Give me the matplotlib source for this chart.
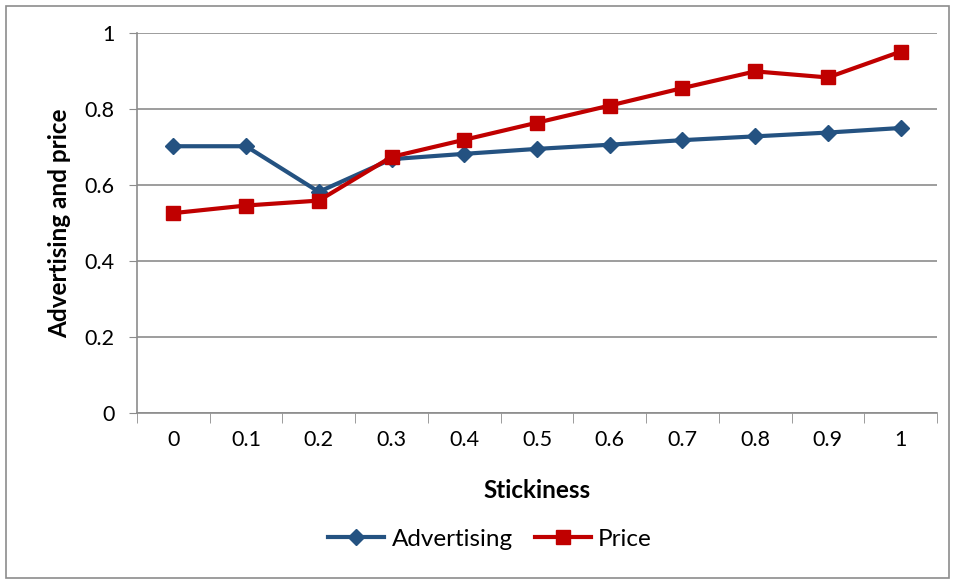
import matplotlib
matplotlib.use("Agg")
import matplotlib.pyplot as plt
from matplotlib.patches import Rectangle

# Stickiness levels and the two outcome series
stickiness = ["0", "0.1", "0.2", "0.3", "0.4", "0.5", "0.6", "0.7", "0.8", "0.9", "1"]
advertising = [0.702, 0.702, 0.582, 0.668, 0.682, 0.695, 0.706, 0.718, 0.728, 0.738, 0.750]
price = [0.526, 0.546, 0.559, 0.674, 0.719, 0.764, 0.809, 0.855, 0.899, 0.883, 0.951]
yticks = [0, 0.2, 0.4, 0.6, 0.8, 1]

plt.rcParams['font.family'] = ['Lato', 'DejaVu Sans']

fig = plt.figure(figsize=(9.56, 5.8), dpi=100)
# outer chart frame
fig.patches.append(Rectangle((6 / 956, 2 / 580), 943 / 956, 572 / 580,
                             transform=fig.transFigure, fill=False,
                             edgecolor='#8c8c8c', linewidth=1.2))

ax = fig.add_axes([137 / 956, 1 - 413 / 580, 800 / 956, 380 / 580])
x = list(range(len(stickiness)))

ax.plot(x, advertising, color='#245281', linewidth=3, marker='D',
        markersize=8, label='Advertising')
ax.plot(x, price, color='#C00000', linewidth=3, marker='s',
        markersize=10, label='Price')

ax.set_xlim(-0.5, len(stickiness) - 0.5)
ax.set_ylim(0, 1)
ax.set_yticks(yticks)
ax.set_yticklabels([f"{v:g}" for v in yticks], fontsize=15.5)
ax.set_xticks(x)
ax.set_xticklabels(stickiness, fontsize=15.5)
ax.tick_params(axis='x', length=0, pad=12)
# category boundary tick marks
ax.set_xticks([i - 0.5 for i in range(len(stickiness) + 1)], minor=True)
ax.tick_params(axis='x', which='minor', length=7, color='#8c8c8c', direction='out')
ax.tick_params(axis='y', length=6, color='#8c8c8c', direction='out', pad=10)

ax.grid(axis='y', color='#8c8c8c', linewidth=1.2)
ax.set_axisbelow(True)
for side in ['top', 'right']:
    ax.spines[side].set_visible(False)
for side in ['left', 'bottom']:
    ax.spines[side].set_color('#8c8c8c')
    ax.spines[side].set_linewidth(1.2)

ax.set_xlabel('Stickiness', fontsize=17.5, fontweight='bold', labelpad=21)
ax.set_ylabel('Advertising and price', fontsize=17.5, fontweight='bold', labelpad=10)

fig.legend(loc='center', bbox_to_anchor=(490 / 956, 1 - 539 / 580), ncol=2,
           frameon=False, fontsize=17.5, handlelength=2.3, handletextpad=0.3,
           columnspacing=0.9)

fig.savefig("out.png", dpi=100)
